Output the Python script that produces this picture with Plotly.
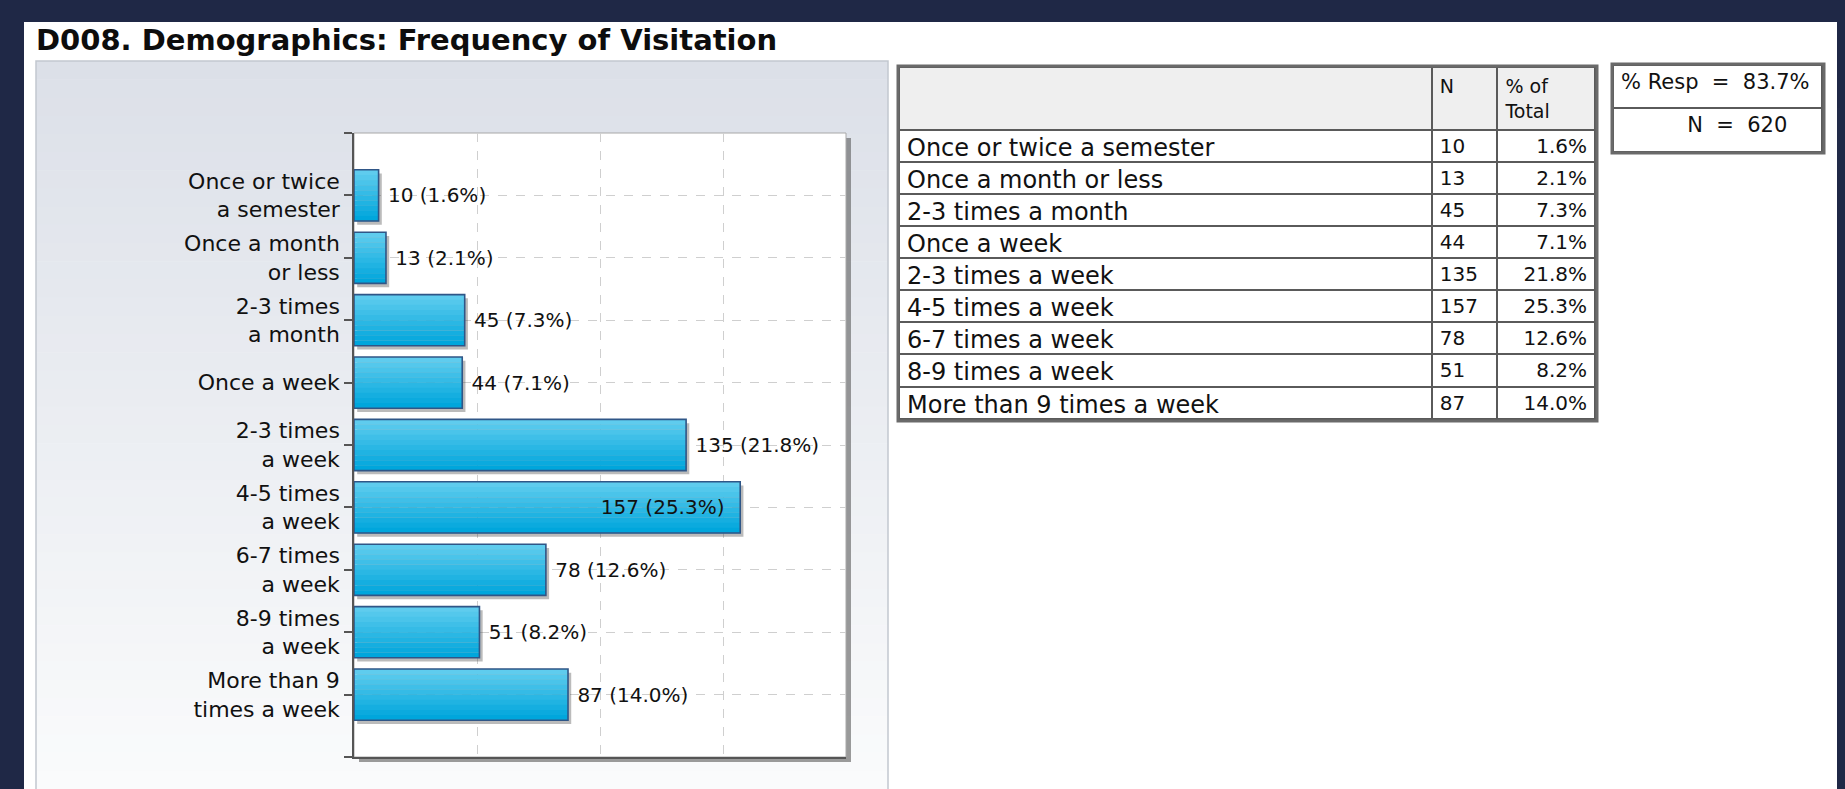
import plotly.graph_objects as go

# ---------------- data ----------------
title_text = "D008. Demographics: Frequency of Visitation"
categories = [
    "Once or twice a semester",
    "Once a month or less",
    "2-3 times a month",
    "Once a week",
    "2-3 times a week",
    "4-5 times a week",
    "6-7 times a week",
    "8-9 times a week",
    "More than 9 times a week",
]
chart_labels = [
    "Once or twice<br>a semester",
    "Once a month<br>or less",
    "2-3 times<br>a month",
    "Once a week",
    "2-3 times<br>a week",
    "4-5 times<br>a week",
    "6-7 times<br>a week",
    "8-9 times<br>a week",
    "More than 9<br>times a week",
]
counts = [10, 13, 45, 44, 135, 157, 78, 51, 87]
pcts = [1.6, 2.1, 7.3, 7.1, 21.8, 25.3, 12.6, 8.2, 14.0]
resp_pct = 83.7
total_n = 620
x_grid_vals = [50, 100, 150]
x_max = 200

# ---------------- helpers ----------------
W, H = 1845, 789
FONT = "DejaVu Sans"
TXT = "#111111"
NB = "\u00a0"


def px(x):
    return x / W


def py(y):
    return 1 - y / H


positions = list(range(len(categories)))
bar_w = 0.82

fig = go.Figure()

# bar shadow
fig.add_trace(go.Bar(
    x=counts, y=positions, base=1.3, orientation="h",
    width=bar_w, offset=-bar_w / 2 + 0.06,
    marker=dict(color="rgba(60,60,60,0.35)", line=dict(width=0)),
    hoverinfo="skip", showlegend=False,
))

# gradient slices of the bars
n_slices = 10
top_c = (95, 204, 238)
bot_c = (0, 166, 220)
sw = bar_w / n_slices
for i in range(n_slices):
    t = i / (n_slices - 1)
    col = tuple(round(top_c[k] + (bot_c[k] - top_c[k]) * t) for k in range(3))
    fig.add_trace(go.Bar(
        x=counts, y=positions, orientation="h",
        width=sw + 0.003, offset=-bar_w / 2 + i * sw,
        marker=dict(color="rgb(%d,%d,%d)" % col, line=dict(width=0)),
        hoverinfo="skip", showlegend=False,
    ))

# outline + value labels
max_i = counts.index(max(counts))
labels = []
tpos = []
for i, (c, p) in enumerate(zip(counts, pcts)):
    if i == max_i:
        labels.append(f"{c} ({p:.1f}%){NB}{NB}")
        tpos.append("inside")
    else:
        labels.append(f"{NB}{c} ({p:.1f}%)")
        tpos.append("outside")
fig.add_trace(go.Bar(
    x=counts, y=positions, orientation="h",
    width=bar_w, offset=-bar_w / 2,
    marker=dict(color="rgba(0,0,0,0)", line=dict(color="#2f5687", width=1.6)),
    text=labels, textposition=tpos, insidetextanchor="end",
    textfont=dict(family=FONT, size=20, color=TXT),
    insidetextfont=dict(family=FONT, size=20, color=TXT),
    outsidetextfont=dict(family=FONT, size=20, color=TXT),
    constraintext="none", cliponaxis=False, textangle=0,
    hoverinfo="skip", showlegend=False,
))

# data table
pct_strs = [f"{p:.1f}%" for p in pcts]
fig.add_trace(go.Table(
    domain=dict(x=[px(899), px(1596)], y=[py(440), py(67)]),
    columnwidth=[535, 66, 98],
    header=dict(
        values=["", "<br>N", "% of<br>Total"],
        fill_color="#efefef",
        line=dict(color="#5a5a5a", width=2),
        align=["left", "left", "left"],
        font=dict(family=FONT, size=19, color=TXT), height=62,
    ),
    cells=dict(
        values=[categories, [str(c) for c in counts], pct_strs],
        fill_color="white",
        line=dict(color="#5a5a5a", width=2),
        align=["left", "left", "right"],
        font=dict(family=FONT, size=[24, 20, 20], color=TXT), height=32.1,
    ),
))

# response box
fig.add_trace(go.Table(
    domain=dict(x=[px(1613), px(1823)], y=[py(170), py(65)]),
    columnwidth=[1],
    header=dict(
        values=[f"%{NB}Resp{NB}{NB}={NB}{NB}{resp_pct:.1f}%"],
        fill_color="white", line=dict(color="#5a5a5a", width=2),
        align="left", font=dict(family=FONT, size=21, color=TXT), height=43,
    ),
    cells=dict(
        values=[[f"N{NB}{NB}={NB}{NB}{total_n}{NB}{NB}{NB}{NB}"]],
        fill_color="white", line=dict(color="#5a5a5a", width=2),
        align="right", font=dict(family=FONT, size=21, color=TXT), height=44,
    ),
))

# ---------------- decoration shapes ----------------
shapes = []
# main white panel
shapes.append(dict(type="rect", xref="paper", yref="paper", layer="below",
                   x0=px(24), x1=px(1837), y0=py(789), y1=py(22),
                   fillcolor="white", line=dict(width=0)))
# chart panel gradient
p_top, p_bot = 61, 789
nb = 40
c0 = (220, 224, 232)
c1 = (250, 251, 252)
bh = (p_bot - p_top) / nb
for i in range(nb):
    t = i / (nb - 1)
    col = tuple(round(c0[k] + (c1[k] - c0[k]) * t) for k in range(3))
    shapes.append(dict(type="rect", xref="paper", yref="paper", layer="below",
                       x0=px(36), x1=px(888),
                       y0=py(p_top + (i + 1) * bh + 0.5), y1=py(p_top + i * bh),
                       fillcolor="rgb(%d,%d,%d)" % col, line=dict(width=0)))
shapes.append(dict(type="rect", xref="paper", yref="paper", layer="below",
                   x0=px(36), x1=px(888), y0=py(795), y1=py(61),
                   fillcolor="rgba(0,0,0,0)", line=dict(color="#c2c7cf", width=1.5)))
# plot area shadow + white area
shapes.append(dict(type="rect", xref="paper", yref="paper", layer="below",
                   x0=px(359), x1=px(851), y0=py(762), y1=py(138),
                   fillcolor="rgba(90,90,90,0.6)", line=dict(width=0)))
shapes.append(dict(type="rect", xref="paper", yref="paper", layer="below",
                   x0=px(354), x1=px(846), y0=py(757), y1=py(133),
                   fillcolor="white", line=dict(color="#a8a8a8", width=1)))
# table outer borders
shapes.append(dict(type="rect", xref="paper", yref="paper", layer="above",
                   x0=px(898), x1=px(1597), y0=py(421), y1=py(66),
                   fillcolor="rgba(0,0,0,0)", line=dict(color="#6a6a6a", width=3)))
shapes.append(dict(type="rect", xref="paper", yref="paper", layer="above",
                   x0=px(1612), x1=px(1824), y0=py(153), y1=py(64),
                   fillcolor="rgba(0,0,0,0)", line=dict(color="#6a6a6a", width=3)))

fig.update_layout(
    width=W, height=H,
    margin=dict(l=0, r=0, t=0, b=0),
    paper_bgcolor="#1f2846",
    plot_bgcolor="rgba(0,0,0,0)",
    barmode="overlay",
    showlegend=False,
    shapes=shapes,
    font=dict(family=FONT, size=20, color=TXT),
    xaxis=dict(
        domain=[px(354), px(846)], range=[0, x_max],
        tickvals=x_grid_vals, showticklabels=False, ticks="",
        showgrid=True, gridcolor="#cfcfcf", griddash="dash", gridwidth=1,
        zeroline=False, showline=True, linecolor="#555555", linewidth=1.5,
        fixedrange=True,
    ),
    yaxis=dict(
        domain=[py(757), py(133)], range=[len(categories), -1],
        tickvals=list(range(-1, len(categories) + 1)),
        ticktext=[""] + chart_labels + [""],
        ticks="outside", ticklen=8, tickcolor="#555555", tickwidth=1.5,
        showgrid=True, gridcolor="#cfcfcf", griddash="dash", gridwidth=1,
        zeroline=False, showline=True, linecolor="#555555", linewidth=1.5,
        tickfont=dict(family=FONT, size=22, color=TXT),
        fixedrange=True,
    ),
    annotations=[dict(
        x=px(34), y=py(40), xref="paper", yref="paper",
        xanchor="left", yanchor="middle", showarrow=False,
        text=f"<b>{title_text}</b>",
        font=dict(family=FONT, size=29, color="#0d0d0d"),
    )],
)

fig.write_html(
    "out.html",
    config={"displayModeBar": False},
    post_script="document.body.style.margin='0';document.body.style.overflow='hidden';",
)
